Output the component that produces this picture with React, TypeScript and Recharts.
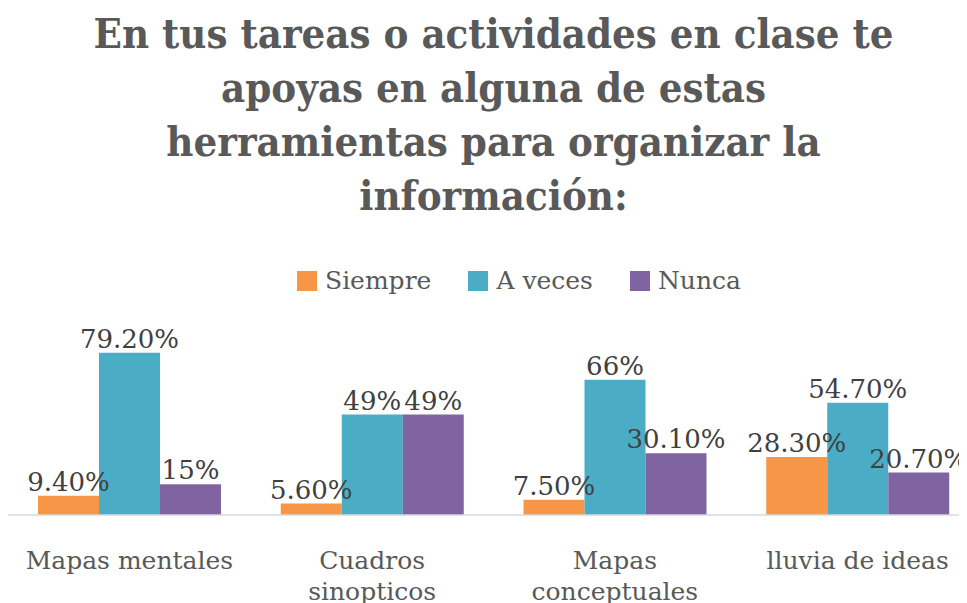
import React from 'react';
import { BarChart, Bar, XAxis, YAxis, LabelList } from 'recharts';

const categories = ['Mapas mentales', 'Cuadros sinopticos', 'Mapas conceptuales', 'lluvia de ideas'];
const tickLines = [['Mapas mentales'], ['Cuadros', 'sinopticos'], ['Mapas', 'conceptuales'], ['lluvia de ideas']];
const siempre = [9.4, 5.6, 7.5, 28.3];
const aVeces = [79.2, 49, 66, 54.7];
const nunca = [15, 49, 30.1, 20.7];
const siempreLabels = ['9.40%', '5.60%', '7.50%', '28.30%'];
const aVecesLabels = ['79.20%', '49%', '66%', '54.70%'];
const nuncaLabels = ['15%', '49%', '30.10%', '20.70%'];
const titleLines = [
  'En tus tareas o actividades en clase te',
  'apoyas en alguna de estas',
  'herramientas para organizar la',
  'información:',
];

const series = [
  { key: 'siempre', name: 'Siempre', color: '#F79646', labels: siempreLabels },
  { key: 'aVeces', name: 'A veces', color: '#4BACC6', labels: aVecesLabels },
  { key: 'nunca', name: 'Nunca', color: '#8064A2', labels: nuncaLabels },
];

const data = categories.map((c, i) => ({
  category: c,
  idx: i,
  siempre: siempre[i],
  aVeces: aVeces[i],
  nunca: nunca[i],
}));

const FONT = "'DejaVu Serif', serif";

const Tick = (props: any) => {
  const { x, y, payload } = props;
  const lines = tickLines[payload.index] || [payload.value];
  return (
    <text x={x} y={y} textAnchor="middle" fill="#595959" fontSize={25} fontFamily={FONT}>
      {lines.map((l: string, i: number) => (
        <tspan key={i} x={x} y={y + 46 + i * 31}>
          {l}
        </tspan>
      ))}
    </text>
  );
};

export default function App() {
  return (
    <div style={{ position: 'relative', width: 959, height: 595, overflow: 'hidden', background: '#fff' }}>
      <BarChart
        width={971}
        height={595}
        data={data}
        margin={{ top: 302, right: 0, left: 0, bottom: 0 }}
        barCategoryGap={30}
        barGap={0}
      >
        <XAxis
          dataKey="category"
          axisLine={{ stroke: '#D9D9D9', strokeWidth: 1.5 }}
          tickLine={false}
          tick={<Tick />}
          interval={0}
          height={88}
        />
        <YAxis hide domain={[0, 100]} />
        {series.map((s) => (
          <Bar key={s.key} dataKey={s.key} name={s.name} fill={s.color} isAnimationActive={false}>
            <LabelList
              dataKey="idx"
              position="top"
              offset={5}
              fill="#404040"
              fontSize={26}
              fontFamily={FONT}
              formatter={(v: any) => s.labels[v]}
            />
          </Bar>
        ))}
      </BarChart>
      <div
        style={{
          position: 'absolute',
          top: 258,
          left: 289,
          display: 'flex',
          alignItems: 'center',
          fontFamily: FONT,
          fontSize: 25,
          color: '#595959',
          lineHeight: '30px',
        }}
      >
        {series.map((s, i) => (
          <div key={s.key} style={{ display: 'flex', alignItems: 'center', marginRight: i < 2 ? 37 : 0 }}>
            <div style={{ width: 20, height: 20, background: s.color, marginRight: 8 }} />
            <span>{s.name}</span>
          </div>
        ))}
      </div>
      <div
        style={{
          position: 'absolute',
          top: -1,
          left: 0,
          width: 971,
          textAlign: 'center',
          fontFamily: "'DejaVu Serif Condensed', 'DejaVu Serif', serif",
          fontStretch: 'condensed',
          fontWeight: 'bold',
          fontSize: 41.5,
          lineHeight: '54px',
          color: '#595959',
        }}
      >
        {titleLines.map((l, i) => (
          <div key={i} style={{ whiteSpace: 'nowrap' }}>{l}</div>
        ))}
      </div>
    </div>
  );
}
